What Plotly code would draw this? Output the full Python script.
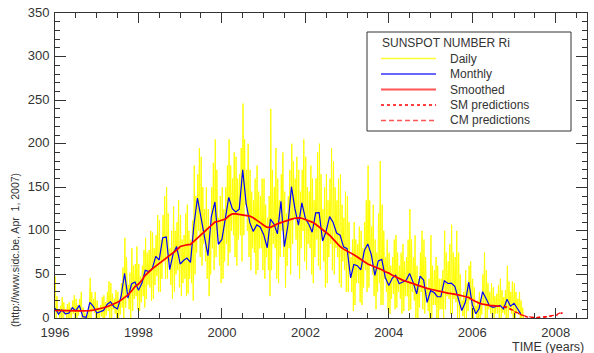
import plotly.graph_objects as go

# ---------------- data ----------------
start_year = 1996

monthly_ri = [
    11.5, 4.4, 9.2, 4.8, 5.5, 11.8, 8.2, 14.4, 1.6, 0.9, 17.9, 13.3,          # 1996
    5.7, 7.6, 8.7, 15.5, 18.5, 12.7, 10.4, 24.4, 51.3, 22.8, 39.0, 41.2,      # 1997
    31.9, 40.3, 54.8, 53.4, 56.3, 70.7, 66.6, 92.2, 92.9, 55.5, 74.0, 81.9,   # 1998
    62.0, 66.3, 68.8, 63.7, 106.4, 137.7, 113.5, 93.7, 71.5, 116.7, 133.2, 84.6,  # 1999
    90.1, 112.9, 138.5, 125.5, 121.6, 124.9, 170.1, 130.5, 109.7, 99.4, 106.8, 104.4,  # 2000
    95.6, 80.6, 113.5, 107.7, 96.6, 134.0, 81.8, 106.4, 150.7, 125.5, 106.5, 132.2,  # 2001
    114.1, 107.4, 98.4, 120.7, 120.8, 88.3, 99.6, 116.4, 109.6, 97.5, 95.0, 81.6,  # 2002
    79.5, 46.0, 61.4, 60.0, 55.2, 77.4, 85.0, 72.7, 48.8, 65.6, 67.3, 46.5,   # 2003
    37.3, 45.8, 49.1, 39.3, 41.5, 43.2, 51.1, 40.9, 27.7, 48.0, 43.5, 17.9,   # 2004
    31.3, 29.2, 24.5, 24.4, 42.6, 39.6, 39.9, 36.4, 22.1, 8.5, 18.0, 41.2,    # 2005
    15.3, 4.9, 10.6, 30.2, 22.3, 13.9, 12.2, 12.9, 14.4, 10.4, 21.5, 13.6,    # 2006
    16.9, 10.6, 4.8,                                                          # 2007
]

smoothed_ri = [
    8.8, 8.6, 8.4, 8.2, 8.0, 8.0, 8.1, 8.2, 8.1, 8.0, 8.4, 9.0,
    9.8, 10.5, 11.8, 13.0, 14.6, 16.5, 18.0, 20.5, 23.5, 26.5, 31.0, 36.0,
    39.0, 43.5, 49.0, 53.0, 56.5, 59.5, 62.5, 65.5, 68.5, 71.0, 74.0, 78.0,
    82.0, 83.5, 84.0, 84.5, 88.0, 92.0, 95.0, 98.5, 102.5, 106.5, 110.0, 111.0,
    112.0, 113.5, 117.0, 119.5, 119.5, 119.0, 118.5, 118.0, 117.0, 115.0, 112.5, 109.5,
    106.5, 104.0, 104.0, 106.5, 108.0, 109.5, 111.0, 112.5, 113.5, 114.5, 115.0, 114.5,
    113.0, 111.5, 110.0, 107.5, 104.5, 101.5, 99.0, 95.0, 90.5, 86.0, 82.0, 79.0,
    77.0, 75.0, 72.5, 70.0, 67.0, 64.5, 62.0, 60.5, 59.0, 57.5, 55.5, 53.0,
    51.5, 49.0, 47.0, 45.0, 43.5, 42.0, 41.0, 39.5, 38.0, 36.5, 35.0, 34.0,
    33.0, 32.0, 31.0, 30.0, 29.0, 28.5, 28.0, 27.5, 26.5, 25.5, 24.5, 23.5,
    21.0, 19.0, 17.0, 16.0, 15.0, 14.5, 14.2, 14.0, 13.5,
]

# daily values, as seen in the picture: per month the highest / lowest day,
# and a second peak / trough
daily_high = [
    48, 14, 24, 16, 18, 26, 22, 30, 12, 8, 46, 30,
    20, 24, 26, 42, 40, 32, 30, 58, 92, 52, 80, 82,
    62, 78, 92, 100, 98, 118, 112, 140, 150, 100, 128, 135,
    118, 120, 130, 112, 175, 195, 185, 150, 125, 178, 205, 140,
    150, 175, 205, 190, 185, 195, 246, 200, 170, 160, 175, 160,
    160, 140, 240, 195, 160, 190, 145, 170, 200, 185, 170, 205,
    185, 175, 160, 190, 200, 150, 165, 195, 180, 160, 165, 145,
    140, 90, 110, 105, 100, 135, 175, 130, 90, 180, 130, 90,
    75, 90, 95, 75, 85, 90, 125, 95, 60, 100, 90, 45,
    95, 70, 60, 55, 100, 85, 107, 100, 75, 30, 55, 65,
    45, 20, 30, 75, 55, 40, 35, 38, 45, 32, 60, 42,
    40, 30, 20,
]
daily_low = [
    0, 0, 0, 0, 0, 0, 0, 0, 0, 0, 0, 0,
    0, 0, 0, 0, 0, 0, 0, 0, 12, 0, 8, 10,
    8, 12, 22, 20, 22, 30, 30, 45, 45, 22, 30, 35,
    25, 25, 28, 20, 50, 70, 60, 45, 25, 55, 70, 40,
    45, 60, 75, 70, 60, 65, 95, 70, 55, 50, 55, 55,
    45, 25, 55, 45, 40, 70, 35, 50, 85, 60, 45, 65,
    55, 50, 40, 60, 55, 35, 40, 55, 50, 40, 35, 30,
    30, 8, 15, 18, 15, 30, 35, 25, 10, 15, 15, 10,
    5, 10, 12, 5, 8, 8, 10, 0, 0, 10, 5, 0,
    0, 0, 0, 0, 10, 5, 5, 0, 0, 0, 0, 0,
    0, 0, 0, 0, 0, 0, 0, 0, 0, 0, 0, 0,
    0, 0, 0,
]
daily_high2 = [
    25, 10, 18, 10, 12, 20, 15, 22, 6, 4, 30, 22,
    12, 15, 18, 30, 28, 22, 20, 40, 70, 38, 60, 62,
    48, 60, 75, 78, 80, 95, 90, 118, 120, 80, 100, 110,
    90, 95, 100, 90, 140, 165, 150, 125, 100, 150, 170, 115,
    125, 150, 175, 160, 160, 165, 205, 170, 145, 135, 145, 140,
    130, 115, 170, 150, 135, 165, 120, 140, 180, 160, 145, 170,
    150, 145, 135, 160, 165, 125, 135, 160, 150, 135, 130, 115,
    110, 70, 90, 85, 80, 110, 135, 105, 75, 120, 100, 70,
    60, 70, 75, 60, 65, 70, 90, 70, 45, 75, 70, 35,
    60, 55, 45, 45, 75, 65, 75, 70, 50, 20, 40, 60,
    35, 14, 22, 50, 40, 30, 25, 28, 32, 24, 42, 30,
    30, 22, 12,
]
daily_low2 = [
    5, 0, 4, 0, 0, 5, 3, 8, 0, 0, 8, 6,
    0, 2, 3, 8, 10, 5, 4, 12, 30, 10, 22, 25,
    18, 25, 38, 35, 38, 48, 45, 65, 65, 38, 50, 55,
    40, 45, 45, 40, 75, 100, 85, 65, 50, 80, 100, 60,
    65, 85, 100, 95, 90, 95, 130, 100, 80, 75, 80, 80,
    70, 55, 85, 80, 70, 100, 60, 80, 115, 90, 80, 100,
    85, 80, 70, 90, 90, 65, 70, 85, 80, 70, 65, 55,
    55, 30, 40, 40, 35, 55, 60, 50, 30, 40, 45, 30,
    22, 28, 30, 22, 25, 25, 30, 20, 12, 30, 25, 8,
    15, 15, 10, 10, 25, 22, 22, 18, 10, 2, 8, 20,
    6, 0, 4, 15, 10, 5, 5, 5, 6, 4, 10, 5,
    6, 4, 0,
]

# predictions start October 2006 (month index 129)
pred_start_index = 129
sm_pred = [13.0, 11.5, 10.0, 7.5, 5.5, 3.5, 2.0, 1.0, 0.5, 0.5, 0.5, 1.0, 1.0, 1.5, 2.0, 3.0, 4.5, 6.0]
cm_pred = [13.5, 12.5, 10.5, 8.0, 6.0, 4.0, 2.5, 1.5, 1.0, 0.5, 0.5, 0.5, 1.0, 2.0, 2.5, 3.5, 5.5, 7.0]

x_range = ["1996-01-01", "2008-10-01"]
y_range = [0, 350]

legend_title = "SUNSPOT NUMBER Ri"
legend_labels = ["Daily", "Monthly", "Smoothed", "SM predictions", "CM predictions"]
y_note = "(http://www.sidc.be, Apr  1, 2007)"
x_title = "TIME (years)"


def month_date(i, day=1):
    y = start_year + i // 12
    m = i % 12 + 1
    return f"{y:04d}-{m:02d}-{day:02d}"


# ---------------- figure ----------------
fig = go.Figure()

dx, dy = [], []
for i in range(len(daily_high)):
    if i % 2 == 0:
        vals = [daily_high[i], daily_low[i], daily_high2[i], daily_low2[i]]
    else:
        vals = [daily_high2[i], daily_low2[i], daily_high[i], daily_low[i]]
    dx += [month_date(i, d) for d in (4, 11, 18, 25)]
    dy += vals

YELLOW = "#FFFF00"
BLUE = "#0000FF"
RED = "#FF0000"

fig.add_trace(go.Scatter(x=dx, y=dy, mode="lines", name="Daily",
                         line=dict(color=YELLOW, width=1), showlegend=False))
fig.add_trace(go.Scatter(x=[month_date(i) for i in range(len(monthly_ri))], y=monthly_ri,
                         mode="lines", name="Monthly",
                         line=dict(color=BLUE, width=1.2), showlegend=False))
fig.add_trace(go.Scatter(x=[month_date(i) for i in range(len(smoothed_ri))], y=smoothed_ri,
                         mode="lines", name="Smoothed",
                         line=dict(color=RED, width=1.7), showlegend=False))
fig.add_trace(go.Scatter(x=[month_date(pred_start_index + i) for i in range(len(sm_pred))], y=sm_pred,
                         mode="lines", name="SM predictions",
                         line=dict(color=RED, width=1.4, dash="dot"), showlegend=False))
fig.add_trace(go.Scatter(x=[month_date(pred_start_index + i) for i in range(len(cm_pred))], y=cm_pred,
                         mode="lines", name="CM predictions",
                         line=dict(color=RED, width=1.2, dash="4px,3px"), showlegend=False))

AX = "#333333"
FONT = "Liberation Sans, Arial, sans-serif"

fig.update_xaxes(
    type="date", range=x_range, showline=True, linecolor=AX, linewidth=1, mirror="allticks",
    ticks="inside", ticklen=10, tickcolor=AX, tickwidth=1,
    dtick="M24", tick0="1996-01-01", tickformat="%Y",
    minor=dict(dtick="M6", ticks="inside", ticklen=5, tickcolor=AX, tickwidth=1),
    showgrid=False, zeroline=False, ticklabelstandoff=2,
    tickfont=dict(family=FONT, size=13, color=AX),
)
fig.update_yaxes(
    range=y_range, showline=True, linecolor=AX, linewidth=1, mirror="allticks",
    ticks="inside", ticklen=11, tickcolor=AX, tickwidth=1,
    dtick=50, tick0=0,
    minor=dict(dtick=10, ticks="inside", ticklen=5, tickcolor=AX, tickwidth=1),
    showgrid=False, zeroline=False, ticklabelshift=-1, ticklabelstandoff=2,
    tickfont=dict(family=FONT, size=13, color=AX),
)

# layout geometry in pixels -> paper
L, R, T, B = 55, 7, 13, 35
W, H = 594, 353
PW, PH = W - L - R, H - T - B


def px(x):
    return (x - L) / PW


def py(y):
    return (H - B - y) / PH


shapes = []
annotations = []

# legend box
shapes.append(dict(type="rect", xref="paper", yref="paper",
                   x0=px(367), x1=px(571), y0=py(131), y1=py(32),
                   line=dict(color=AX, width=1), fillcolor="white", layer="above"))
annotations.append(dict(xref="paper", yref="paper", x=px(380), y=py(43), text=legend_title,
                        showarrow=False, xanchor="left", yanchor="middle",
                        font=dict(family=FONT, size=12, color=AX)))
leg_styles = [
    dict(color="#FFFF33", width=1.5, dash="solid"),
    dict(color="#3333FF", width=1.5, dash="solid"),
    dict(color="#FF5555", width=2, dash="solid"),
    dict(color=RED, width=1.5, dash="dot"),
    dict(color="#FF5555", width=1.5, dash="5px,3px"),
]
row_y = [58.5, 74, 89.5, 105, 120.5]
for lab, st, yy in zip(legend_labels, leg_styles, row_y):
    shapes.append(dict(type="line", xref="paper", yref="paper",
                       x0=px(381), x1=px(436), y0=py(yy), y1=py(yy),
                       line=st, layer="above"))
    annotations.append(dict(xref="paper", yref="paper", x=px(448), y=py(yy), text=lab,
                            showarrow=False, xanchor="left", yanchor="middle",
                            font=dict(family=FONT, size=12, color=AX)))

# axis texts
annotations.append(dict(xref="paper", yref="paper", x=px(586), y=py(346.5), text=x_title,
                        showarrow=False, xanchor="right", yanchor="middle",
                        font=dict(family=FONT, size=12.5, color=AX)))
annotations.append(dict(xref="paper", yref="paper", x=px(15), y=py(250), text=y_note,
                        showarrow=False, textangle=-90, xanchor="center", yanchor="middle",
                        font=dict(family=FONT, size=10.5, color=AX)))

fig.update_layout(
    width=W, height=H,
    margin=dict(l=L, r=R, t=T, b=B, autoexpand=False),
    paper_bgcolor="white", plot_bgcolor="white",
    showlegend=False, hovermode=False,
    shapes=shapes, annotations=annotations,
    font=dict(family=FONT, color=AX),
)

fig.write_html("out.html", config={"displayModeBar": False, "staticPlot": True},
               post_script="document.body.style.margin='0px';document.body.style.overflow='hidden';")
